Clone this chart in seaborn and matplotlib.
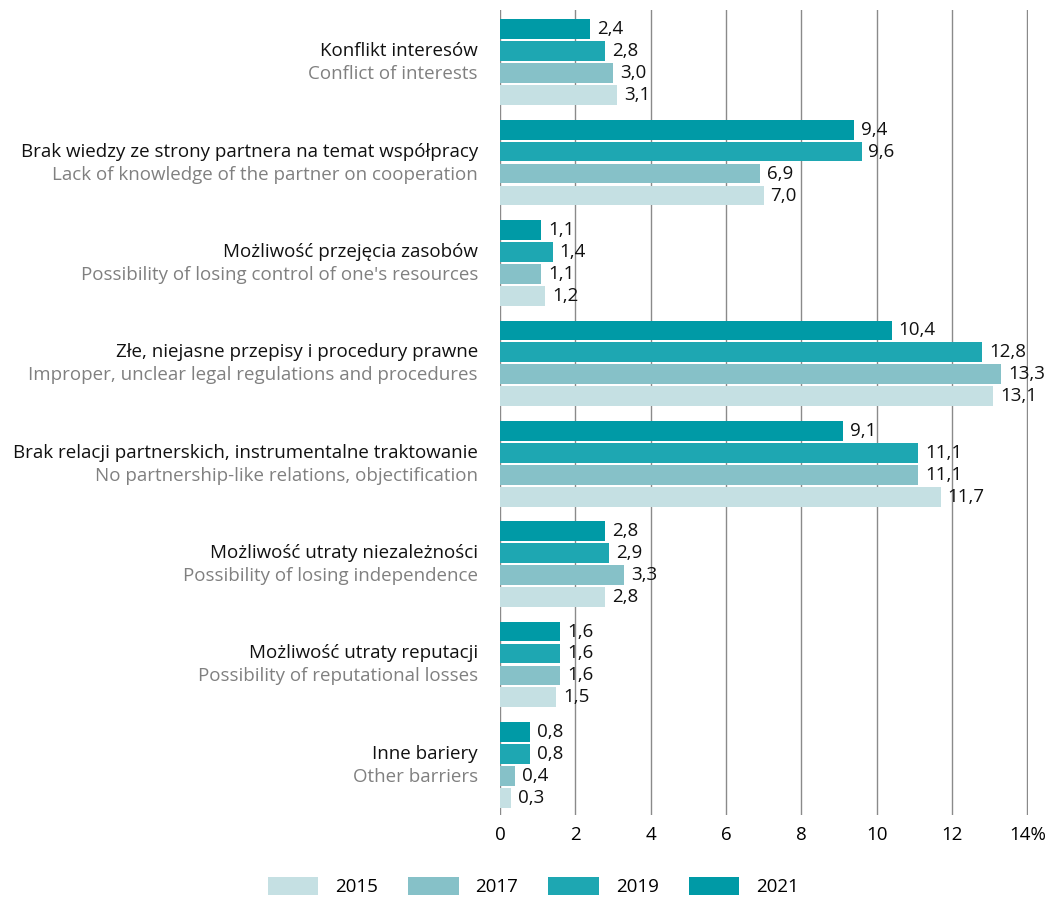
import pandas as pd
import matplotlib
matplotlib.use("Agg")
import matplotlib.pyplot as plt
import seaborn as sns
from matplotlib.patches import Patch
from matplotlib.transforms import blended_transform_factory

labels_pl = [
    "Konflikt interesów",
    "Brak wiedzy ze strony partnera na temat współpracy",
    "Możliwość przejęcia zasobów",
    "Złe, niejasne przepisy i procedury prawne",
    "Brak relacji partnerskich, instrumentalne traktowanie",
    "Możliwość utraty niezależności",
    "Możliwość utraty reputacji",
    "Inne bariery",
]
labels_en = [
    "Conflict of interests",
    "Lack of knowledge of the partner on cooperation",
    "Possibility of losing control of one's resources",
    "Improper, unclear legal regulations and procedures",
    "No partnership-like relations, objectification",
    "Possibility of losing independence",
    "Possibility of reputational losses",
    "Other barriers",
]
years = ["2015", "2017", "2019", "2021"]
v2015 = [3.1, 7.0, 1.2, 13.1, 11.7, 2.8, 1.5, 0.3]
v2017 = [3.0, 6.9, 1.1, 13.3, 11.1, 3.3, 1.6, 0.4]
v2019 = [2.8, 9.6, 1.4, 12.8, 11.1, 2.9, 1.6, 0.8]
v2021 = [2.4, 9.4, 1.1, 10.4, 9.1, 2.8, 1.6, 0.8]
colors = {"2015": "#c5e0e3", "2017": "#86c1c8", "2019": "#1ea7b2", "2021": "#009aa6"}

rows = []
for y, vals in zip(years, [v2015, v2017, v2019, v2021]):
    for cat, v in zip(labels_pl, vals):
        rows.append({"cat": cat, "year": y, "value": v})
df = pd.DataFrame(rows)

plt.rcParams["font.family"] = ["Open Sans", "DejaVu Sans"]
fs = 13.5
fig = plt.figure(figsize=(10.56, 8.97), dpi=100)
ax = fig.add_axes([500 / 1056, 82 / 897, 528 / 1056, 805 / 897])

hue_order = ["2021", "2019", "2017", "2015"]
sns.barplot(data=df, y="cat", x="value", hue="year", hue_order=hue_order,
            order=labels_pl, palette=colors, saturation=1, orient="h",
            width=0.875, gap=0.1, legend=False, ax=ax, zorder=3)

for c in ax.containers:
    ax.bar_label(c, labels=[f"{b.get_width():.1f}".replace(".", ",") for b in c],
                 padding=5, fontsize=fs, color="#111111")

ax.set_xlim(0, 14.02)
ax.set_ylim(7.5, -0.52)
ax.set_xticks(range(0, 15, 2))
ax.set_xticklabels(["0", "2", "4", "6", "8", "10", "12", "14%"], fontsize=fs)
ax.xaxis.grid(True, color="#8a8a8a", linewidth=1, zorder=0)
ax.set_axisbelow(True)
ax.tick_params(axis="both", length=0)
ax.tick_params(axis="x", pad=8)
ax.set_yticks(range(len(labels_pl)))
ax.set_yticklabels([])
ax.set_xlabel("")
ax.set_ylabel("")
for s in ax.spines.values():
    s.set_visible(False)

trans = blended_transform_factory(fig.transFigure, ax.transData)
for i, (pl, en) in enumerate(zip(labels_pl, labels_en)):
    ax.text(478 / 1056, i - 0.11, pl, transform=trans, ha="right", va="center",
            fontsize=fs, color="#111111")
    ax.text(478 / 1056, i + 0.12, en, transform=trans, ha="right", va="center",
            fontsize=fs, color="#808080")

handles = [Patch(facecolor=colors[y], label=y) for y in years]
fig.legend(handles=handles, loc="center", bbox_to_anchor=(0.505, 0.012), ncol=4,
           frameon=False, fontsize=fs, handlelength=2.7, handleheight=1.1,
           columnspacing=1.6, handletextpad=0.9)

fig.savefig("out.png", dpi=100)
